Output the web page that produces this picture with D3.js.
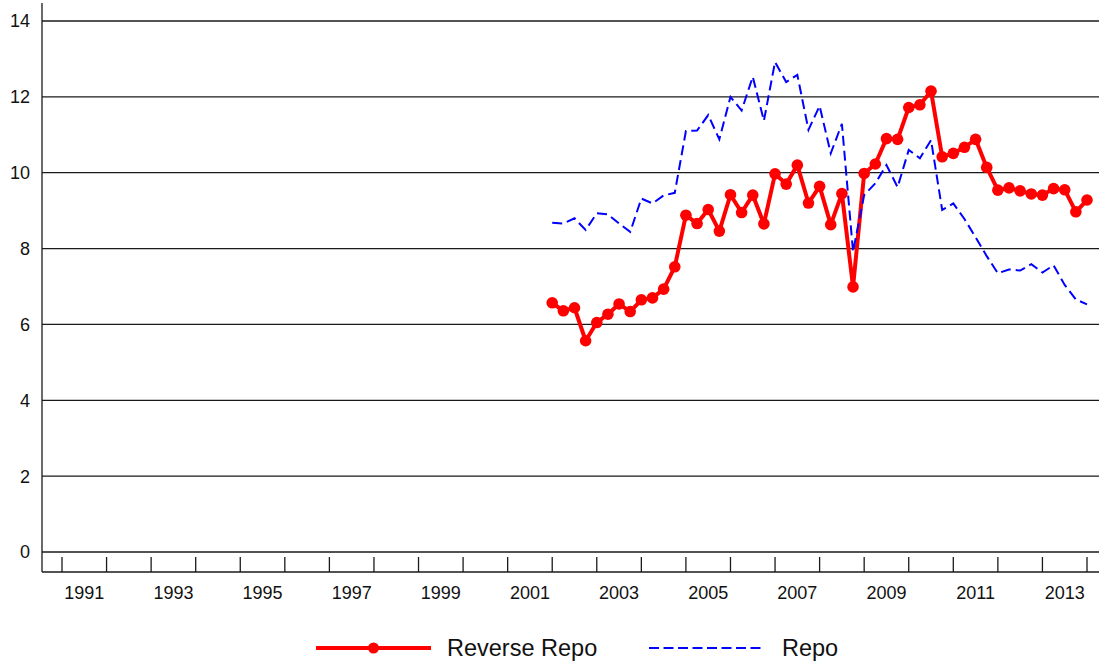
<!DOCTYPE html>
<html>
<head>
<meta charset="utf-8">
<script src="https://cdn.jsdelivr.net/npm/d3@7/dist/d3.min.js"></script>
<style>
  html, body { margin: 0; padding: 0; background: #fff; }
  svg { display: block; font-family: "Liberation Sans", Arial, sans-serif; }
</style>
</head>
<body>
<svg id="chart" width="1099" height="661"></svg>
<script>
// ---- data ----
const quarters = [
  "2001Q4",
  "2002Q1","2002Q2","2002Q3","2002Q4",
  "2003Q1","2003Q2","2003Q3","2003Q4",
  "2004Q1","2004Q2","2004Q3","2004Q4",
  "2005Q1","2005Q2","2005Q3","2005Q4",
  "2006Q1","2006Q2","2006Q3","2006Q4",
  "2007Q1","2007Q2","2007Q3","2007Q4",
  "2008Q1","2008Q2","2008Q3","2008Q4",
  "2009Q1","2009Q2","2009Q3","2009Q4",
  "2010Q1","2010Q2","2010Q3","2010Q4",
  "2011Q1","2011Q2","2011Q3","2011Q4",
  "2012Q1","2012Q2","2012Q3","2012Q4",
  "2013Q1","2013Q2","2013Q3","2013Q4"
];
const reverseRepo = [
  6.57,
  6.36, 6.44, 5.57, 6.05,
  6.27, 6.54, 6.34, 6.65,
  6.70, 6.93, 7.52, 8.88,
  8.66, 9.03, 8.46, 9.42,
  8.95, 9.41, 8.65, 9.97,
  9.70, 10.20, 9.20, 9.64,
  8.63, 9.45, 6.99, 9.98,
  10.23, 10.90, 10.88, 11.72,
  11.79, 12.15, 10.42, 10.51,
  10.67, 10.88, 10.14, 9.54,
  9.60, 9.52, 9.44, 9.41,
  9.58, 9.55, 8.97, 9.28
];
const repo = [
  8.68,
  8.66, 8.80, 8.49, 8.93,
  8.90, 8.66, 8.44, 9.32,
  9.19, 9.40, 9.47, 11.10,
  11.11, 11.52, 10.88, 12.00,
  11.64, 12.53, 11.37, 12.92,
  12.39, 12.58, 11.13, 11.76,
  10.51, 11.29, 7.92, 9.41,
  9.72, 10.20, 9.62, 10.60,
  10.38, 10.86, 9.02, 9.19,
  8.78, 8.30, 7.80, 7.35,
  7.45, 7.42, 7.59, 7.37,
  7.56, 7.04, 6.66, 6.53
];
const yTicks = [0, 2, 4, 6, 8, 10, 12, 14];
const yearTicks = d3.range(1991, 2015);          // year boundaries
const yearLabels = [1991, 1993, 1995, 1997, 1999, 2001, 2003, 2005, 2007, 2009, 2011, 2013];
const seriesNames = ["Reverse Repo", "Repo"];

// ---- layout ----
const plotLeft = 42, plotRight = 1099, plotTop = 3, axisY = 572;

const svg = d3.select("#chart");

const x = d3.scaleLinear().domain([1991, 2014]).range([62, 1087]);
const y = d3.scaleLinear().domain([0, 14]).range([552, 21]);

const qx = q => {
  const yr = +q.slice(0, 4), qq = +q.slice(5);
  return yr + qq / 4;
};

// gridlines
svg.append("g").selectAll("line").data(yTicks).join("line")
  .attr("x1", plotLeft).attr("x2", plotRight)
  .attr("y1", d => y(d)).attr("y2", d => y(d))
  .attr("stroke", "#1a1a1a").attr("stroke-width", 1.3);

// y labels
svg.append("g").selectAll("text").data(yTicks).join("text")
  .attr("x", 30).attr("y", d => y(d)).attr("dy", "0.36em")
  .attr("text-anchor", "end").attr("font-size", 18).attr("fill", "#111")
  .text(d => d);

// axes lines
svg.append("line").attr("x1", plotLeft).attr("x2", plotLeft)
  .attr("y1", plotTop).attr("y2", axisY)
  .attr("stroke", "#1a1a1a").attr("stroke-width", 1.3);
svg.append("line").attr("x1", plotLeft).attr("x2", plotRight)
  .attr("y1", axisY).attr("y2", axisY)
  .attr("stroke", "#1a1a1a").attr("stroke-width", 1.5);

// x ticks (year boundaries)
svg.append("g").selectAll("line").data(yearTicks).join("line")
  .attr("x1", d => x(d)).attr("x2", d => x(d))
  .attr("y1", axisY - 15).attr("y2", axisY)
  .attr("stroke", "#1a1a1a").attr("stroke-width", 1.3);

// x labels centered in year
svg.append("g").selectAll("text").data(yearLabels).join("text")
  .attr("x", d => x(d + 0.5)).attr("y", 593).attr("dy", "0.36em")
  .attr("text-anchor", "middle").attr("font-size", 18).attr("fill", "#111")
  .text(d => d);

// series
const redData = quarters.map((q, i) => ({ x: qx(q), v: reverseRepo[i] }));
const blueData = quarters.map((q, i) => ({ x: qx(q), v: repo[i] }));
const line = d3.line().x(d => x(d.x)).y(d => y(d.v));

svg.append("path").datum(redData).attr("d", line)
  .attr("fill", "none").attr("stroke", "#ff0000").attr("stroke-width", 4)
  .attr("stroke-linejoin", "round");
svg.append("g").selectAll("circle").data(redData).join("circle")
  .attr("cx", d => x(d.x)).attr("cy", d => y(d.v)).attr("r", 5.8)
  .attr("fill", "#ff0000");

svg.append("path").datum(blueData).attr("d", line)
  .attr("fill", "none").attr("stroke", "#0000ff").attr("stroke-width", 2)
  .attr("stroke-dasharray", "10,5");

// legend
const ly = 648;
const lg = svg.append("g");
lg.append("line").attr("x1", 316).attr("x2", 431).attr("y1", ly).attr("y2", ly)
  .attr("stroke", "#ff0000").attr("stroke-width", 4);
lg.append("circle").attr("cx", 373.5).attr("cy", ly).attr("r", 5.5).attr("fill", "#ff0000");
lg.append("text").attr("x", 447).attr("y", ly).attr("dy", "0.36em")
  .attr("font-size", 23.5).attr("fill", "#111").text(seriesNames[0]);
lg.append("line").attr("x1", 649).attr("x2", 765).attr("y1", ly).attr("y2", ly)
  .attr("stroke", "#0000ff").attr("stroke-width", 2).attr("stroke-dasharray", "10,4.5");
lg.append("text").attr("x", 782).attr("y", ly).attr("dy", "0.36em")
  .attr("font-size", 23.5).attr("fill", "#111").text(seriesNames[1]);
</script>
</body>
</html>
